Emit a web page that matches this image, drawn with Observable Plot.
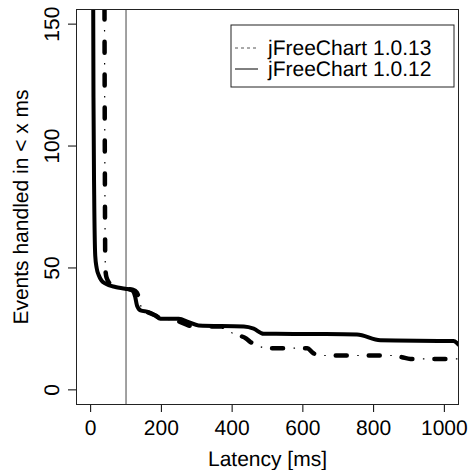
<!DOCTYPE html>
<html>
<head>
<meta charset="utf-8">
<script src="https://cdn.jsdelivr.net/npm/d3@7"></script>
<script src="https://cdn.jsdelivr.net/npm/@observablehq/plot@0.6"></script>
<style>
  html, body { margin: 0; padding: 0; background: #fff; }
  #chart svg { display: block; }
  #chart text { text-rendering: geometricPrecision; }
</style>
</head>
<body>
<div id="chart"></div>
<script>
// jFreeChart 1.0.12 (solid)
const latency12 = [7, 8, 10, 13, 17, 23, 30, 42, 70, 98, 117, 126, 131, 141, 164, 183, 197, 249, 277, 305, 433, 461, 489, 659, 753, 819, 1026, 1040];
const events12  = [170, 120, 80, 55, 50, 47, 45, 43.6, 42.2, 41.5, 40.8, 38.1, 34.6, 32.6, 31.9, 30.5, 29.2, 29.2, 27.8, 26.4, 26.0, 25.1, 23.0, 22.9, 22.7, 20.3, 20.0, 18.6];
// jFreeChart 1.0.13 (dash-dot)
const latency13 = [39, 40, 41.5, 45, 55, 70, 98, 120, 130, 138, 145, 160, 183, 200, 240, 254, 277, 300, 370, 386, 405, 440, 452, 470, 494, 612, 630, 649, 853, 880, 904, 1040];
const events13  = [170, 100, 50, 46, 43.5, 42.2, 41.5, 41, 40, 37, 33, 31.9, 30.5, 29.2, 28.5, 27.8, 26.4, 26, 26, 24.4, 23.0, 21, 19.6, 18.5, 17.1, 17.1, 15, 14.1, 14.1, 13.4, 12.7, 12.7];
const markerLatency = [100];
const xTicks = [0, 200, 400, 600, 800, 1000];
const yTicks = [0, 50, 100, 150];
const legendLabels = ["jFreeChart 1.0.13", "jFreeChart 1.0.12"];
const legendDash = ["3,3", null];
const legendStroke = ["#555", "#000"];
const xLabel = "Latency [ms]";
const yLabel = "Events handled in < x ms";

const series12 = latency12.map((x, i) => ({x, y: events12[i]}));
const series13 = latency13.map((x, i) => ({x, y: events13[i]}));

const FONT = "'Liberation Sans', Arial, Helvetica, sans-serif";

function legendMark(index, scales, values, dimensions) {
  const {width, marginRight, marginTop} = dimensions;
  const right = width - marginRight - 4;
  const boxW = 223, boxH = 62;
  const left = right - boxW;
  const top = marginTop + 16;
  const g = d3.create("svg:g");
  g.append("rect")
    .attr("x", left).attr("y", top).attr("width", boxW).attr("height", boxH)
    .attr("fill", "white").attr("stroke", "#222").attr("stroke-width", 1);
  legendLabels.forEach((label, i) => {
    const cy = top + 23 + i * 21;
    g.append("line")
      .attr("x1", left + 4).attr("x2", left + 27)
      .attr("y1", cy).attr("y2", cy)
      .attr("stroke", legendStroke[i]).attr("stroke-width", 1)
      .attr("stroke-dasharray", legendDash[i]);
    g.append("text")
      .attr("x", left + 37).attr("y", cy).attr("dy", "0.35em")
      .attr("text-anchor", "start")
      .attr("font-size", 21).attr("font-family", FONT)
      .attr("fill", "black")
      .text(label);
  });
  return g.node();
}

const chart = Plot.plot({
  width: 470,
  height: 470,
  marginLeft: 76,
  marginRight: 12,
  marginTop: 9,
  marginBottom: 66,
  style: {fontFamily: FONT, fontSize: "21px", background: "white", color: "black"},
  x: {domain: [-40, 1040]},
  y: {domain: [-6, 156]},
  marks: [
    Plot.axisX({ticks: xTicks, tickSize: 8, tickFormat: () => "", label: null, stroke: "black"}),
    Plot.axisY({ticks: yTicks, tickSize: 8, tickFormat: () => "", label: null, stroke: "black"}),
    Plot.text(xTicks, {x: d => d, frameAnchor: "bottom", dy: 16, lineAnchor: "top", textAnchor: "middle", text: d => String(d), fontSize: 21, fill: "black"}),
    Plot.text(yTicks, {y: d => d, frameAnchor: "left", dx: -18, rotate: -90, lineAnchor: "bottom", textAnchor: "middle", text: d => String(d), fontSize: 21, fill: "black"}),
    Plot.text([xLabel], {frameAnchor: "bottom", dy: 61.5, lineAnchor: "bottom", textAnchor: "middle", text: d => d, fontSize: 21, fill: "black"}),
    Plot.text([yLabel], {frameAnchor: "left", dx: -49, rotate: -90, lineAnchor: "bottom", textAnchor: "middle", text: d => d, fontSize: 21, fill: "black"}),
    Plot.ruleX(markerLatency, {x: d => d, stroke: "#444", strokeWidth: 1}),
    Plot.line(series13, {x: "x", y: "y", stroke: "black", strokeWidth: 4.5, curve: "monotone-x", strokeDasharray: "11,22", strokeLinecap: "round", clip: true}),
    Plot.line(series13, {x: "x", y: "y", stroke: "black", strokeWidth: 1.2, curve: "monotone-x", strokeDasharray: "1.5,31.5", strokeDashoffset: 11.5, strokeLinecap: "butt", clip: true}),
    Plot.line(series12, {x: "x", y: "y", stroke: "black", strokeWidth: 4, curve: "monotone-x", clip: true}),
    Plot.frame({stroke: "#222", strokeWidth: 1}),
    legendMark
  ]
});
document.getElementById("chart").appendChild(chart);
</script>
</body>
</html>
